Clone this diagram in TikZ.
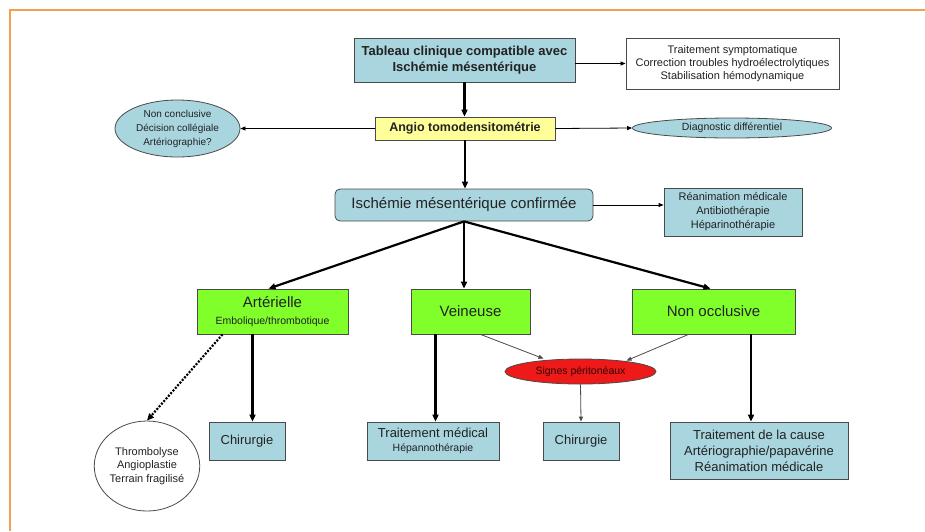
\documentclass[tikz,border=0pt]{standalone}
\usepackage{fontspec}
\setmainfont{Liberation Sans}
\usetikzlibrary{shapes.geometric,arrows.meta}
\definecolor{paleblue}{HTML}{A9D5DE}
\definecolor{paleyellow}{HTML}{FFFF99}
\definecolor{lime}{HTML}{80FF2A}
\definecolor{alarm}{HTML}{EE1A1A}
\definecolor{edge}{HTML}{4A4A4A}
\definecolor{frame}{HTML}{F2A24E}
\definecolor{ink}{HTML}{222222}
\begin{document}
\begin{tikzpicture}[x=1pt, y=-1pt, thick, text=ink,
  cyanbox/.style = {draw=edge, fill=paleblue, line width=0.8pt, inner sep=0pt, align=center},
  greenbox/.style = {draw=edge, fill=lime, line width=0.8pt, inner sep=0pt, align=center, minimum height=45pt},
  oval/.style = {draw=edge, ellipse, line width=0.8pt, inner sep=0pt, align=center},
  heavy/.style = {-{Triangle[length=7pt,width=6pt]}, line width=2.2pt},
  light/.style = {-{Triangle[length=5pt,width=4pt]}, line width=0.8pt}]
\useasboundingbox (0,0) rectangle (925,531);
\fill[white] (0,0) rectangle (925,531);
\draw[frame, line width=1.2pt] (925,10) -- (10,10) -- (10,531);
% top rows
\node[cyanbox, minimum width=221pt, minimum height=44pt, font=\bfseries\fontsize{13}{15.5}\selectfont] (1) at (464.5,60) {Tableau clinique compatible avec\\Ischémie mésentérique};
\node[draw=edge, fill=white, line width=1pt, inner sep=0pt, align=center, minimum width=213pt, minimum height=51pt, font=\fontsize{11}{13}\selectfont] (2) at (732.5,63.5) {Traitement symptomatique\\Correction troubles hydroélectrolytiques\\Stabilisation hémodynamique};
\node[cyanbox, fill=paleyellow, minimum width=180pt, minimum height=23pt, font=\bfseries\fontsize{12.5}{15}\selectfont] (3) at (465,128.5) {Angio tomodensitométrie};
\node[oval, fill=paleblue, minimum width=125pt, minimum height=57pt, font=\fontsize{10}{14}\selectfont] (4) at (177.5,128.5) {Non conclusive\\Décision collégiale\\Artériographie?};
\node[oval, fill=paleblue, minimum width=199pt, minimum height=20pt, font=\fontsize{10.5}{12}\selectfont] (5) at (732,128) {Diagnostic différentiel};
\node[cyanbox, rounded corners=5pt, minimum width=258pt, minimum height=32pt, font=\fontsize{15}{18}\selectfont] (6) at (464,205) {Ischémie mésentérique confirmée};
\node[cyanbox, minimum width=138pt, minimum height=48pt, font=\fontsize{11}{14}\selectfont] (7) at (733,212) {Réanimation médicale\\Antibiothérapie\\Héparinothérapie};
% three branches
\node[greenbox, minimum width=151pt, font=\fontsize{15}{17}\selectfont] (8) at (272.5,311.5) {Artérielle\\{\fontsize{10.5}{13}\selectfont Embolique/thrombotique}};
\node[greenbox, minimum width=119pt, font=\fontsize{15}{18}\selectfont] (9) at (470.5,311.5) {Veineuse};
\node[greenbox, minimum width=163pt, font=\fontsize{15}{18}\selectfont] (10) at (713.5,311.5) {Non occlusive};
\node[oval, fill=alarm, minimum width=151pt, minimum height=25pt, text=black!80!red, font=\fontsize{10.5}{12}\selectfont] (11) at (580.5,371.5) {Signes péritonéaux};
% bottom row
\node[cyanbox, minimum width=76pt, minimum height=38pt, font=\fontsize{13}{16}\selectfont] (12) at (581,441) {Chirurgie};
\node[cyanbox, minimum width=178pt, minimum height=57pt, font=\fontsize{13}{16}\selectfont] (13) at (759,450.5) {Traitement de la cause\\Artériographie/papavérine\\Réanimation médicale};
\node[cyanbox, minimum width=132pt, minimum height=38pt, font=\fontsize{13}{14}\selectfont] (14) at (433,441) {Traitement médical\\{\fontsize{10.5}{13}\selectfont Hépannothérapie}};
\node[cyanbox, minimum width=76pt, minimum height=38pt, font=\fontsize{13}{16}\selectfont] (15) at (247,441) {Chirurgie};
\node[oval, fill=white, minimum width=98pt, minimum height=90pt, font=\fontsize{11}{13.5}\selectfont] (16) at (147,466) {Thrombolyse\\Angioplastie\\Terrain fragilisé};
% connectors
\draw[heavy] (1.south) -- (1.south |- 3.north);
\draw[light] (1.east |- 2.west) -- (2.west);
\draw[light] (3.west) -- (4.east);
\draw[light] (3.east) -- (5.west);
\draw[heavy] (3.south) -- (3.south |- 6.north);
\draw[light] (6.east) -- (6.east -| 7.west);
\draw[heavy] (6.south) -- ([xshift=-4pt]8.north);
\draw[heavy] (6.south) -- (6.south |- 9.north);
\draw[heavy] (6.south) -- ([xshift=-3pt]10.north);
\draw[heavy, dash pattern=on 2pt off 1.5pt] ([xshift=-50pt]8.south) -- (16.north);
\draw[heavy] ([xshift=-20pt]8.south) -- ([xshift=-20pt]8.south |- 15.north);
\draw[heavy] ([xshift=-35pt]9.south) -- ([xshift=-35pt]9.south |- 14.north);
\draw[light, edge] ([xshift=10pt]9.south) -- ([xshift=-37pt]11.north);
\draw[light, edge] ([xshift=-25pt]10.south) -- ([xshift=46pt,yshift=-2pt]11.north);
\draw[light, edge] (11.south) -- (12.north);
\draw[heavy] ([xshift=37.5pt]10.south) -- ([xshift=37.5pt]10.south |- 13.north);
\end{tikzpicture}
\end{document}
